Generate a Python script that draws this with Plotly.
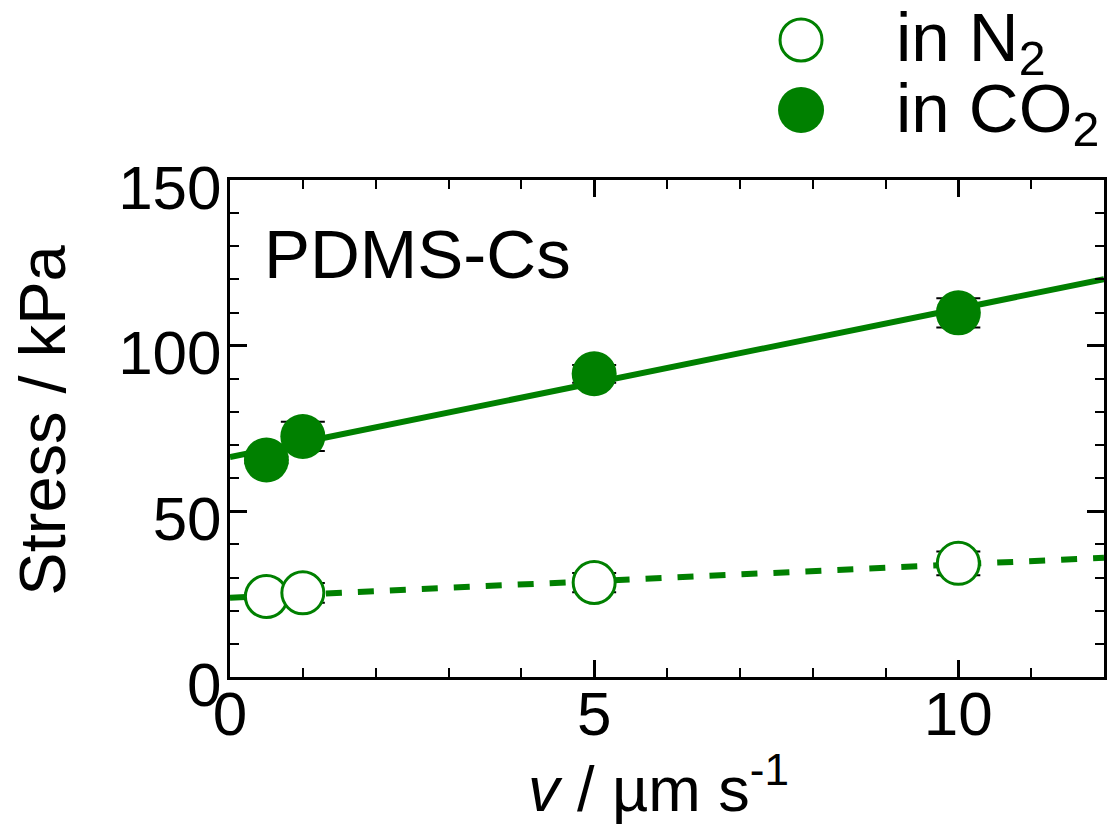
import plotly.graph_objects as go

# ---- data ----
velocity = [0.5, 1, 5, 10]
stress_co2 = [65.5, 72.6, 91.5, 109.9]
err_co2 = [1.0, 4.4, 2.7, 4.4]
stress_n2 = [24.3, 25.4, 28.5, 34.3]
err_n2 = [1.0, 3.0, 2.9, 3.6]

fit_x = [0, 12]
fit_co2 = [66.4, 120.1]
fit_n2 = [23.9, 36.0]

x_ticks = [0, 5, 10]
y_ticks = [0, 50, 100, 150]

GREEN = "#008000"
FONT = "Arial, Liberation Sans, sans-serif"

# plot-area geometry (pixels) used for annotations
L, R, T, B = 230, 3, 180, 150
W, H = 1110, 827
PW, PH = W - L - R, H - T - B


def px_x(p):
    return (p - L) / PW


def px_y(p):
    return (H - B - p) / PH


fig = go.Figure()

fig.add_trace(go.Scatter(x=fit_x, y=fit_co2, mode="lines",
                         line=dict(color=GREEN, width=6), showlegend=False,
                         hoverinfo="skip"))
fig.add_trace(go.Scatter(x=fit_x, y=fit_n2, mode="lines",
                         line=dict(color=GREEN, width=6, dash="16px,16px"),
                         showlegend=False, hoverinfo="skip"))

fig.add_trace(go.Scatter(
    x=velocity, y=stress_n2, mode="markers", name="in N<sub>2</sub>",
    marker=dict(symbol="circle", size=42, color="white",
                line=dict(color=GREEN, width=3)),
    error_y=dict(type="data", array=err_n2, visible=True, color="black",
                 thickness=2, width=22),
    showlegend=False))
fig.add_trace(go.Scatter(
    x=velocity, y=stress_co2, mode="markers", name="in CO<sub>2</sub>",
    marker=dict(symbol="circle", size=45, color=GREEN,
                line=dict(color=GREEN, width=0)),
    error_y=dict(type="data", array=err_co2, visible=True, color="black",
                 thickness=2, width=22),
    showlegend=False))

axis_common = dict(
    showline=True, linewidth=3, linecolor="black", mirror="ticks",
    ticks="inside", ticklen=17, tickwidth=3, tickcolor="black",
    showgrid=False, zeroline=False,
    tickfont=dict(family=FONT, size=62, color="black"),
)

fig.update_xaxes(range=[0, 12], tickvals=x_ticks, ticklabelstandoff=-19,
                 minor=dict(dtick=1, ticks="inside", ticklen=9, tickwidth=2,
                            tickcolor="black", showgrid=False),
                 **axis_common)
fig.update_yaxes(range=[0, 150], tickvals=y_ticks, ticklabelstandoff=-7,
                 ticklabelshift=7,
                 minor=dict(dtick=10, ticks="inside", ticklen=9, tickwidth=2,
                            tickcolor="black", showgrid=False),
                 **axis_common)

annotations = [
    dict(text="PDMS-Cs", x=px_x(262), y=px_y(254), xref="paper", yref="paper",
         xanchor="left", yanchor="middle", showarrow=False,
         font=dict(family=FONT, size=69, color="black")),
    dict(text="Stress / kPa", x=px_x(41), y=px_y(420), xref="paper",
         yref="paper", xanchor="center", yanchor="middle", textangle=-90,
         showarrow=False, font=dict(family=FONT, size=65, color="black")),
    dict(text="<i>v</i> / \u00b5m s<sup>-1</sup>", x=px_x(660), y=px_y(784),
         xref="paper", yref="paper", xanchor="center", yanchor="middle",
         showarrow=False, font=dict(family=FONT, size=63, color="black")),
    dict(text="in N<sub>2</sub>", x=px_x(896), y=px_y(42), xref="paper",
         yref="paper", xanchor="left", yanchor="middle", showarrow=False,
         font=dict(family=FONT, size=69, color="black")),
    dict(text="in CO<sub>2</sub>", x=px_x(896), y=px_y(113), xref="paper",
         yref="paper", xanchor="left", yanchor="middle", showarrow=False,
         font=dict(family=FONT, size=69, color="black")),
]

shapes = [
    dict(type="circle", xref="paper", yref="paper", xsizemode="pixel",
         ysizemode="pixel", xanchor=px_x(803), yanchor=px_y(40),
         x0=-21, x1=21, y0=-21, y1=21,
         line=dict(color=GREEN, width=3), fillcolor="white"),
    dict(type="circle", xref="paper", yref="paper", xsizemode="pixel",
         ysizemode="pixel", xanchor=px_x(803), yanchor=px_y(110),
         x0=-23, x1=23, y0=-23, y1=23,
         line=dict(color=GREEN, width=0), fillcolor=GREEN),
]

fig.update_layout(
    width=W, height=H,
    margin=dict(l=L, r=R, t=T, b=B),
    paper_bgcolor="white", plot_bgcolor="white",
    showlegend=False,
    annotations=annotations, shapes=shapes,
    font=dict(family=FONT, color="black"),
)

fig.write_html(
    "out.html",
    config={"displayModeBar": False},
    post_script="document.body.style.margin='0';"
                "document.body.style.overflow='hidden';",
)
